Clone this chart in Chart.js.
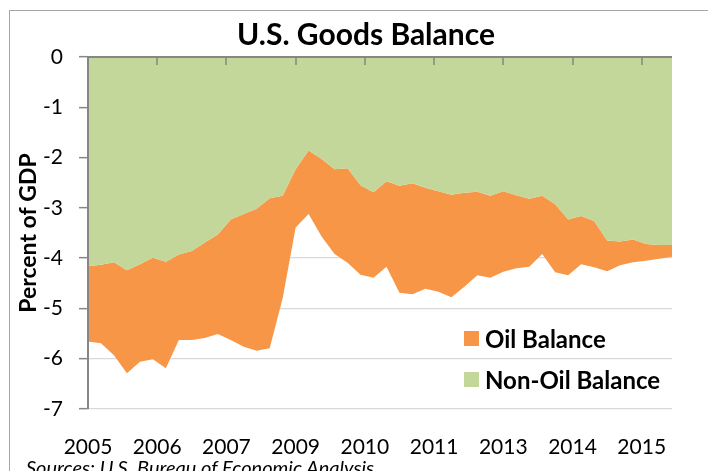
<!DOCTYPE html>
<html lang="en">
<head>
    <meta charset="UTF-8">
    <title>U.S. Goods Balance</title>
    <style>
        body {
            margin: 0;
            background: #fff;
            font-family: Lato, sans-serif;
        }
        #wrap {
            position: relative;
            width: 708px;
            height: 471px;
            overflow: hidden;
        }
        #frame {
            position: absolute;
            left: 9px;
            top: 10px;
            width: 800px;
            height: 600px;
            border: 1.5px solid #a6a6a6;
        }
        #chart {
            position: absolute;
            left: 0;
            top: 0;
        }
        #title {
            position: absolute;
            left: 366px;
            top: 18px;
            transform: translateX(-50%);
            font: bold 30px/1 Lato, sans-serif;
            white-space: nowrap;
        }
        #legend {
            position: absolute;
            left: 464px;
            top: 331px;
        }
        .item {
            display: flex;
            align-items: center;
            height: 15px;
            margin-bottom: 26px;
            font: bold 24px/1 Lato, sans-serif;
            white-space: nowrap;
        }
        .swatch {
            width: 15px;
            height: 15px;
            margin-right: 6px;
        }
        #source {
            position: absolute;
            left: 26px;
            top: 457px;
            font: italic 20px/1 Lato, sans-serif;
            white-space: nowrap;
        }
    </style>
</head>
<body>

<div id="wrap">
    <div id="frame"></div>
    <canvas id="chart" width="708" height="471"></canvas>
    <div id="title">U.S. Goods Balance</div>
    <div id="legend">
        <div class="item"><span class="swatch" style="background:#F79646"></span>Oil Balance</div>
        <div class="item"><span class="swatch" style="background:#C4D79B"></span>Non-Oil Balance</div>
    </div>
    <div id="source">Sources: U.S. Bureau of Economic Analysis</div>
</div>

<script src="https://cdn.jsdelivr.net/npm/chart.js"></script>
<script>
    // quarterly, percent of GDP
    const quarters = [
        '2005 Q1', '2005 Q2', '2005 Q3', '2005 Q4',
        '2006 Q1', '2006 Q2', '2006 Q3', '2006 Q4',
        '2007 Q1', '2007 Q2', '2007 Q3', '2007 Q4',
        '2008 Q1', '2008 Q2', '2008 Q3', '2008 Q4',
        '2009 Q1', '2009 Q2', '2009 Q3', '2009 Q4',
        '2010 Q1', '2010 Q2', '2010 Q3', '2010 Q4',
        '2011 Q1', '2011 Q2', '2011 Q3', '2011 Q4',
        '2012 Q1', '2012 Q2', '2012 Q3', '2012 Q4',
        '2013 Q1', '2013 Q2', '2013 Q3', '2013 Q4',
        '2014 Q1', '2014 Q2', '2014 Q3', '2014 Q4',
        '2015 Q1', '2015 Q2', '2015 Q3', '2015 Q4',
        '2016 Q1', '2016 Q2'
    ];
    const nonOilBalance = [
        -4.16, -4.13, -4.08, -4.24, -4.12, -3.99, -4.07, -3.93,
        -3.86, -3.69, -3.53, -3.23, -3.12, -3.02, -2.81, -2.76,
        -2.23, -1.86, -2.03, -2.23, -2.21, -2.55, -2.69, -2.47,
        -2.56, -2.51, -2.60, -2.67, -2.74, -2.70, -2.68, -2.76,
        -2.67, -2.75, -2.82, -2.76, -2.93, -3.23, -3.16, -3.26,
        -3.65, -3.67, -3.63, -3.72, -3.74, -3.74
    ];
    const oilBalance = [
        -1.50, -1.56, -1.85, -2.05, -1.94, -2.02, -2.12, -1.70,
        -1.77, -1.90, -1.98, -2.40, -2.64, -2.82, -2.98, -2.04,
        -1.16, -1.26, -1.54, -1.69, -1.88, -1.78, -1.70, -1.70,
        -2.13, -2.21, -2.01, -2.00, -2.04, -1.87, -1.66, -1.63,
        -1.60, -1.45, -1.35, -1.16, -1.35, -1.11, -0.96, -0.92,
        -0.61, -0.47, -0.45, -0.33, -0.27, -0.23
    ];
    const xTickLabels = ['2005', '2006', '2007', '2009', '2010', '2011', '2013', '2014', '2015'];

    // months since Jan 2005, so the axis behaves like a date axis
    function monthOf(q) {
        const [y, qq] = q.split(' Q');
        return (parseInt(y) - 2005) * 12 + (parseInt(qq) - 1) * 3;
    }
    const xs = quarters.map(monthOf);

    const axisColor = '#868686';

    // axis line along y = 0 (top) and down the left, drawn over the fills
    const axisLines = {
        id: 'axisLines',
        afterDatasetsDraw(chart) {
            const { ctx, chartArea: a, scales: { x, y } } = chart;
            const y0 = y.getPixelForValue(0);
            ctx.save();
            ctx.strokeStyle = axisColor;
            ctx.lineWidth = 2;
            ctx.beginPath();
            ctx.moveTo(a.left, a.bottom);
            ctx.lineTo(a.left, y0);
            ctx.lineTo(a.right, y0);
            ctx.stroke();
            ctx.lineWidth = 1.5;
            ctx.beginPath();
            x.ticks.forEach(t => {
                const px = Math.round(x.getPixelForValue(t.value));
                ctx.moveTo(px, y0);
                ctx.lineTo(px, y0 + 8);
            });
            ctx.stroke();
            ctx.restore();
        }
    };

    Chart.defaults.font.family = 'Lato';
    Chart.defaults.color = '#000';

    new Chart(document.getElementById('chart'), {
        type: 'line',
        data: {
            datasets: [{
                label: 'Non-Oil Balance',
                data: xs.map((x, i) => ({ x: x, y: nonOilBalance[i] })),
                backgroundColor: '#C4D79B',
                borderWidth: 0,
                pointRadius: 0,
                fill: 'origin'
            }, {
                label: 'Oil Balance',
                data: xs.map((x, i) => ({ x: x, y: oilBalance[i] })),
                backgroundColor: '#F79646',
                borderWidth: 0,
                pointRadius: 0,
                fill: '-1'
            }]
        },
        options: {
            responsive: false,
            devicePixelRatio: 1,
            animation: false,
            layout: {
                padding: { left: 12, right: 36, top: 57, bottom: 12 }
            },
            elements: { line: { tension: 0 } },
            plugins: {
                legend: { display: false },
                tooltip: { enabled: false }
            },
            scales: {
                x: {
                    type: 'linear',
                    min: 0,
                    max: 135,
                    grid: { display: false },
                    border: { display: false },
                    ticks: {
                        stepSize: 16,
                        includeBounds: false,
                        autoSkip: false,
                        maxRotation: 0,
                        padding: 18,
                        font: { size: 21 },
                        callback: (v, i) => xTickLabels[i]
                    },
                    afterFit: s => { s.height = 50; }
                },
                y: {
                    stacked: true,
                    min: -7,
                    max: 0,
                    grid: {
                        color: '#d9d9d9',
                        lineWidth: 1.3,
                        tickLength: 9,
                        tickColor: axisColor,
                        tickWidth: 1.5
                    },
                    border: { color: axisColor, width: 2 },
                    ticks: {
                        stepSize: 1,
                        padding: 16,
                        font: { size: 21 }
                    },
                    title: {
                        display: true,
                        text: 'Percent of GDP',
                        font: { size: 23, weight: 'bold' },
                        padding: { top: 3, bottom: 0 }
                    },
                    afterFit: s => { s.width = 76; }
                }
            }
        },
        plugins: [axisLines]
    });
</script>

</body>
</html>
